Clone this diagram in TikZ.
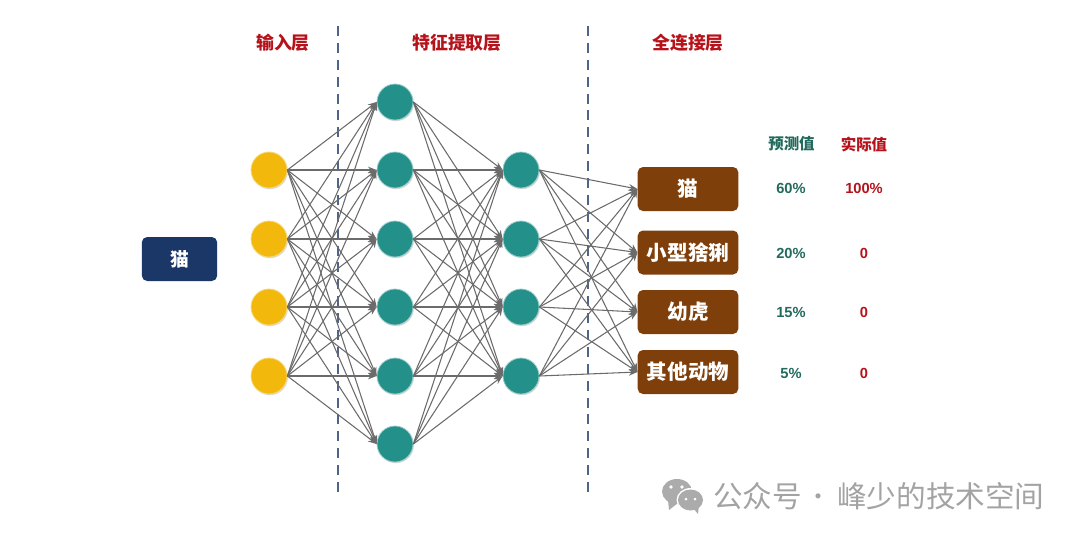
\documentclass[tikz,border=0pt]{standalone}
\usepackage{fontspec}
\setmainfont{Liberation Sans}
\newfontfamily\cjk{Noto Sans CJK SC}
\usetikzlibrary{shadows,arrows.meta}
\definecolor{gold}{HTML}{F3B80C}
\definecolor{teal2}{HTML}{23918A}
\definecolor{brown2}{HTML}{7F3F0A}
\definecolor{navy2}{HTML}{1B3768}
\definecolor{redtxt}{HTML}{B5121B}
\definecolor{greentxt}{HTML}{236A5E}
\definecolor{dashblue}{HTML}{4F6488}
\tikzset{
    neuron/.style={circle, minimum size=27pt, inner sep=0pt, line width=0.6pt,
        drop shadow={shadow xshift=0.7pt, shadow yshift=-0.9pt, opacity=0.3}},
    inneuron/.style={neuron, fill=gold, draw=gold!55!white},
    midneuron/.style={neuron, fill=teal2, draw=teal2!45!white},
    catbox/.style={rectangle, rounded corners=4pt, inner sep=0pt, text=white,
        font=\cjk\bfseries\fontsize{15.4}{18}\selectfont},
    outbox/.style={catbox, fill=brown2, minimum width=75.5pt, minimum height=33pt},
    inbox/.style={catbox, fill=navy2, minimum width=56.5pt, minimum height=33pt, font=\cjk\bfseries\fontsize{14}{16}\selectfont},
    link/.style={-{Stealth[length=6.5pt,width=5pt]}, draw=black!58, line width=0.8pt},
    layertitle/.style={text=redtxt, font=\cjk\bfseries\fontsize{13.4}{15}\selectfont, inner sep=0pt},
    colhead/.style={inner sep=0pt, font=\cjk\bfseries\fontsize{11.6}{14}\selectfont},
    pct/.style={inner sep=0pt, font=\bfseries\fontsize{11}{13}\selectfont},
    divider/.style={dashblue, line width=1.2pt, dash pattern=on 7.5pt off 5.167pt},
    wmtext/.style={inner sep=0pt, anchor=west, text=black!36, font=\cjk\fontsize{22.2}{26}\selectfont}
}
\begin{document}
\begin{tikzpicture}[x=0.75pt,y=-0.75pt]
    \useasboundingbox (0,0) rectangle (1080,540);

    % dividers
    \coordinate (d1a) at (338,26);
    \coordinate (d1b) at (338,492);
    \coordinate (d2a) at (588,26);
    \coordinate (d2b) at (588,492);
    \draw[divider] (d1a) -- (d1b);
    \draw[divider] (d2a) -- (d2b);

    % titles
    \node[layertitle] (t1) at (283,43) {输入层};
    \node[layertitle] (t2) at (457,43) {特征提取层};
    \node[layertitle] (t3) at (688,43) {全连接层};

    % layers
    \node[inbox] (cat) at (179.5,259) {猫};
    \foreach \n/\y in {1/170,2/239,3/307,4/376}
        \node[inneuron] (a\n) at (269,\y) {};
    \foreach \n/\y in {1/102,2/170,3/239,4/307,5/376,6/444}
        \node[midneuron] (b\n) at (395,\y) {};
    \foreach \n/\y in {1/170,2/239,3/307,4/376}
        \node[midneuron] (c\n) at (521,\y) {};
    \node[outbox] (o1) at (688,189) {猫};
    \node[outbox] (o2) at (688,252.5) {小型猞猁};
    \node[outbox] (o3) at (688,312) {幼虎};
    \node[outbox] (o4) at (688,372) {其他动物};

    % links
    \foreach \i in {1,...,4}
        \foreach \j in {1,...,6}
            \draw[link] (a\i.east) -- (b\j.west);
    \foreach \i in {1,...,6}
        \foreach \j in {1,...,4}
            \draw[link] (b\i.east) -- (c\j.west);
    \foreach \i in {1,...,4}
        \foreach \j in {1,...,4}
            \draw[link] (c\i.east) -- (o\j.west);

    % table
    \node[colhead, text=greentxt] (h1) at (791.5,144) {预测值};
    \node[colhead, text=redtxt] (h2) at (864,144) {实际值};
    \foreach \n/\y/\p/\q in {1/188/60\%/100\%,2/253/20\%/0,3/312.5/15\%/0,4/373.5/5\%/0} {
        \node[pct, text=greentxt] (p\n) at (791,\y) {\p};
        \node[pct, text=redtxt] (q\n) at (864,\y) {\q};
    }

    % watermark
    \fill[black!33] (677,491.5) ellipse (15 and 12.5);
    \fill[black!33] (668,500) -- (669,510) -- (678,503) -- cycle;
    \fill[white] (690.5,500) ellipse (14 and 12);
    \fill[black!33] (690.5,500) ellipse (12.5 and 10.5);
    \fill[black!33] (693,508) -- (698,514) -- (699,505) -- cycle;
    \fill[white] (671,487) circle (1.8) (682,487) circle (1.8) (686,499) circle (1.5) (695,499) circle (1.5);
    \node[wmtext] (wm1) at (713,496) {公众号};
    \node[wmtext, font=\cjk\fontsize{18}{22}\selectfont] (wm2) at (806,500) {·};
    \node[wmtext] (wm3) at (837,496) {峰少的技术空间};
\end{tikzpicture}
\end{document}
